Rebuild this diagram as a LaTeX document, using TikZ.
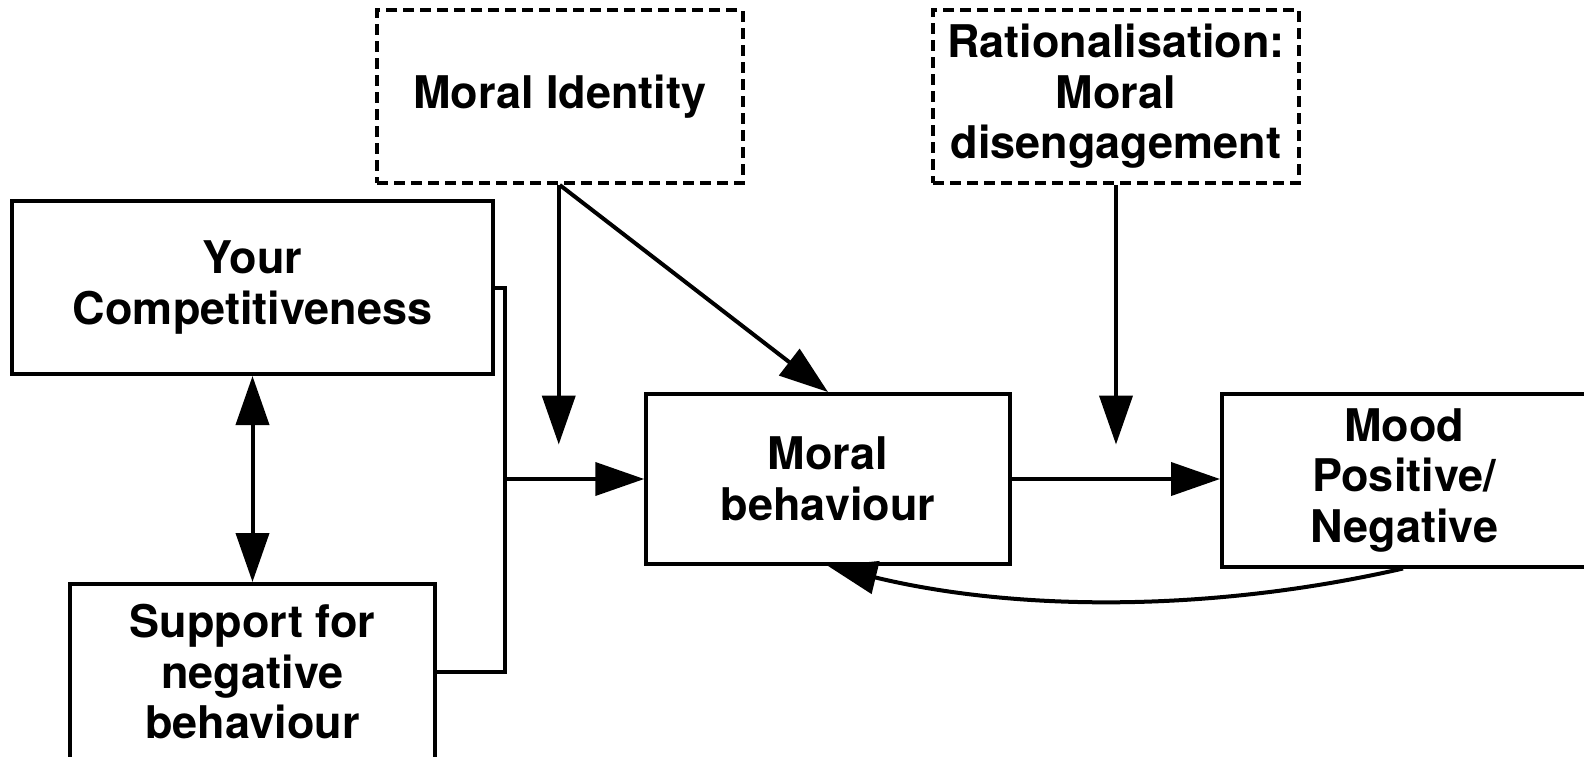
\documentclass[tikz,border=0pt]{standalone}
\usepackage{fontspec}
\setmainfont{TeX Gyre Heros}
\usetikzlibrary{arrows.meta,calc}

\tikzset{
  box/.style={draw, line width=4pt, inner sep=0pt, align=center,
    font=\fontsize{45}{50.5}\selectfont\bfseries},
  dashbox/.style={box, dash pattern=on 11pt off 6pt},
  conn/.style={line width=4pt},
  arr/.style={conn, -{Triangle[length=49pt,width=33pt]}},
  dblarr/.style={conn, {Triangle[length=49pt,width=33pt]}-{Triangle[length=49pt,width=33pt]}},
}

\begin{document}
\begin{tikzpicture}[x=1pt, y=1pt]
\useasboundingbox (0,0) rectangle (1584,-756);

% boxes
\node[dashbox, minimum width=365.5pt, minimum height=173pt] (mi) at (559.75,-96.5) {Moral Identity};
\node[dashbox, minimum width=366pt, minimum height=173pt] (rat) at (1116,-96.5) {Rationalisation:\\Moral\\disengagement};
\node[box, minimum width=481pt, minimum height=173pt] (yc) at (252.5,-287.5) {Your\\Competitiveness};
\node[box, minimum width=365pt, minimum height=176pt] (sup) at (252.5,-672) {Support for\\negative\\behaviour};
\node[box, minimum width=363.5pt, minimum height=170pt] (mb) at (828,-479) {Moral\\behaviour};
\node[box, minimum width=364pt, minimum height=173pt] (mood) at (1404,-480) {Mood\\Positive/\\Negative};

% free ends of the moderator arrows
\coordinate (miend) at ($(mi.south)+(-1,-259.5)$);
\coordinate (ratend) at ($(rat.south)+(0,-259.5)$);
% junction of the two predictors
\coordinate (join) at ($(yc.east)+(10,0)$);

% connectors
\draw[dblarr] (yc.south) -- (sup.north);
\draw[conn] (yc.east) -- (join) |- (sup.east);
\draw[arr] (join |- mb.west) -- (mb.west);
\draw[arr] ($(mi.south)+(-1,0)$) -- (miend);
\draw[arr] (mi.south) -- (mb.north);
\draw[arr] (rat.south) -- (ratend);
\draw[arr] (mb.east) -- (mb.east -| mood.west);
\draw[arr] ($(mood.south)+(-1,0)$) .. controls (1213,-612) and (1018,-612) .. (mb.south);
\end{tikzpicture}
\end{document}
